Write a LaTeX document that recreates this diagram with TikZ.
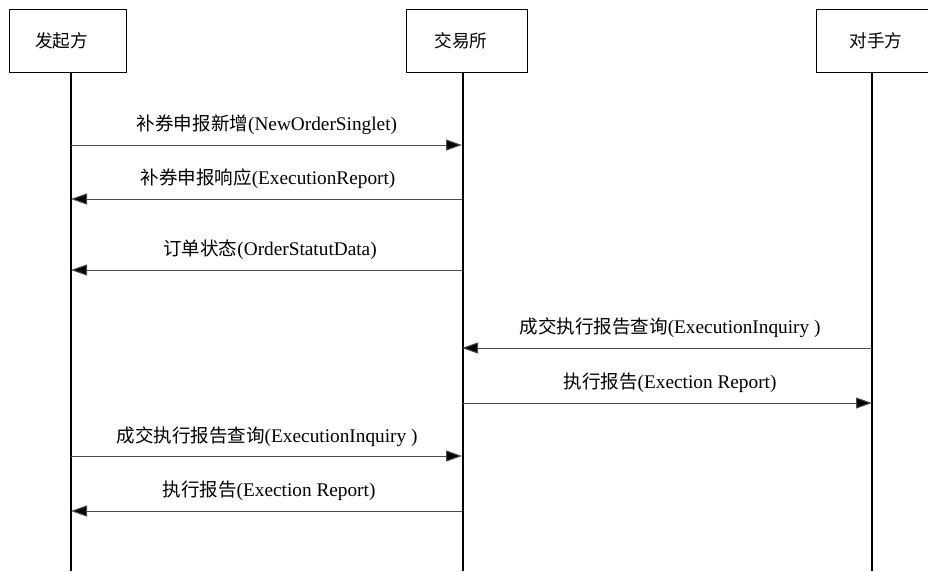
\documentclass[tikz,border=0pt]{standalone}
\usepackage{fontspec}
\setmainfont{Liberation Serif}
\newfontfamily\cjk{Noto Sans CJK SC}[Scale=0.96]
\usetikzlibrary{arrows.meta}
\begin{document}
\begin{tikzpicture}[x=1pt,y=-1pt,
  actor/.style={draw=black,line width=1pt,rectangle,minimum width=#1,minimum height=63pt,inner sep=0pt,font=\fontsize{18.4}{20}\selectfont\cjk},
  life/.style={line width=1.8pt,black},
  msg/.style={line width=1pt,draw=black!70,-{Triangle[length=16pt,width=11pt,fill=black]}},
  lbl/.style={font=\fontsize{19.3}{21}\selectfont,inner sep=0pt,anchor=base}]
\useasboundingbox (0,0) rectangle (928,571);
\node[actor=117pt] (a) at (68,40.5) {发起方\hspace*{13pt}};
\node[actor=121pt] (b) at (466.5,40.5) {交易所\hspace*{11pt}};
\node[actor=112pt] (c) at (872,40.5) {\hspace*{8pt}对手方};
\coordinate (aend) at (71,571);
\coordinate (bend) at (463,571);
\coordinate (cend) at (872,571);
\draw[life] (71,72) coordinate (atop) -- (aend);
\draw[life] (463,72) coordinate (btop) -- (bend);
\draw[life] (872,72) coordinate (ctop) -- (cend);
% message coordinates
\foreach \n/\y in {1/145,2/199,3/270,4/348,5/403,6/456,7/511}{
  \coordinate (a\n) at (71,\y);
  \coordinate (b\n) at (462,\y);
  \coordinate (c\n) at (872,\y);
}
\draw[msg] (a1) -- (b1);
\draw[msg] (b2) -- (a2);
\draw[msg] (b3) -- (a3);
\draw[msg] (c4) -- (b4);
\draw[msg] (b5) -- (c5);
\draw[msg] (a6) -- (b6);
\draw[msg] (b7) -- (a7);
\node[lbl] (l1) at (267,130) {{\cjk 补券申报新增}(NewOrderSinglet)};
\node[lbl] (l2) at (268,184) {{\cjk 补券申报响应}(ExecutionReport)};
\node[lbl] (l3) at (270,255) {{\cjk 订单状态}(OrderStatutData)};
\node[lbl] (l4) at (670,333) {{\cjk 成交执行报告查询}(ExecutionInquiry )};
\node[lbl] (l5) at (670,388) {{\cjk 执行报告}(Exection Report)};
\node[lbl] (l6) at (267,442) {{\cjk 成交执行报告查询}(ExecutionInquiry )};
\node[lbl] (l7) at (269,496) {{\cjk 执行报告}(Exection Report)};
\end{tikzpicture}
\end{document}
